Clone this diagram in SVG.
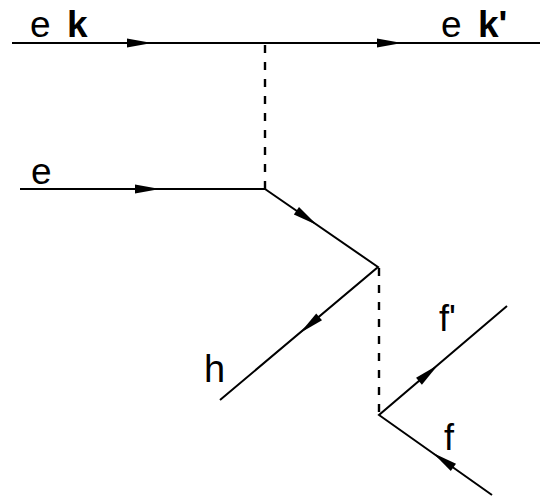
<svg xmlns="http://www.w3.org/2000/svg" xmlns:xlink="http://www.w3.org/1999/xlink" width="540" height="496" viewBox="0 0 540 496">
<style>
.ln{stroke:#000;stroke-width:2;fill:none;stroke-linecap:butt}
.ds{stroke:#000;stroke-width:2.4;fill:none;stroke-dasharray:8 9}
.lb{font-family:"Liberation Sans",Arial,sans-serif;font-size:37px;fill:#000}
.bd{font-weight:bold}
</style>
<defs>
<path id="ah" d="M0,0 L-25,-4.5 L-25,4.5 Z" fill="#000"/>
</defs>
<rect width="540" height="496" fill="#fff"/>
<g id="connectors">
<line class="ln" x1="12" y1="43" x2="540" y2="43"/>
<line class="ln" x1="20" y1="189" x2="265" y2="189"/>
<polyline class="ln" points="265,189 378,267 220,400"/>
<polyline class="ln" points="507,306 379,415 492,495"/>
<line class="ds" x1="265" y1="45" x2="265" y2="189"/>
<line class="ds" x1="379" y1="268" x2="379" y2="415"/>
<use xlink:href="#ah" href="#ah" transform="translate(152,43)"/>
<use xlink:href="#ah" href="#ah" transform="translate(402,43)"/>
<use xlink:href="#ah" href="#ah" transform="translate(160,189)"/>
<use xlink:href="#ah" href="#ah" transform="translate(317,225) rotate(34.6)"/>
<use xlink:href="#ah" href="#ah" transform="translate(300,333) rotate(139.9)"/>
<use xlink:href="#ah" href="#ah" transform="translate(438,365) rotate(-40.4)"/>
<use xlink:href="#ah" href="#ah" transform="translate(433,453) rotate(215.3)"/>
</g>
<g id="node-ek">
<text class="lb" x="30" y="37">e</text>
<text class="lb bd" x="67" y="37">k</text>
</g>
<g id="node-ekp">
<text class="lb" x="441" y="37">e</text>
<text class="lb bd" x="478" y="37">k'</text>
</g>
<g id="node-e">
<text class="lb" x="31" y="184">e</text>
</g>
<g id="node-h">
<text class="lb" x="204" y="382" style="font-size:38px">h</text>
</g>
<g id="node-fp">
<text class="lb" x="439" y="331" style="font-size:36px">f'</text>
</g>
<g id="node-f">
<text class="lb" x="444" y="450" style="font-size:36px">f</text>
</g>
</svg>
